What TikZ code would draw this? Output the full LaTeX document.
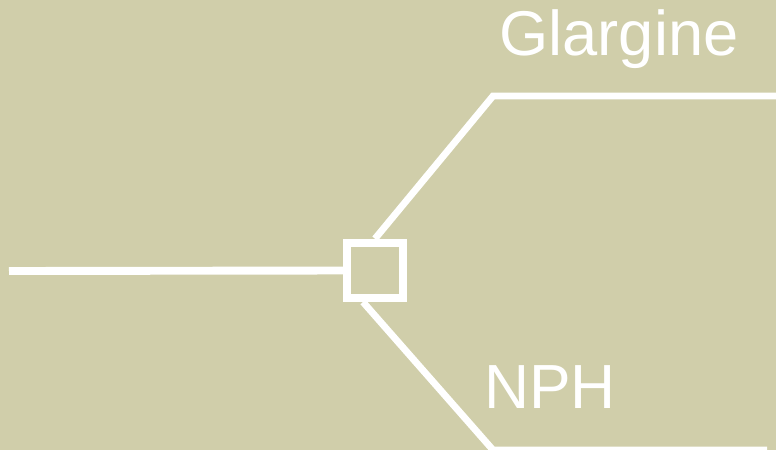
\documentclass[tikz,border=0pt]{standalone}
\usepackage{fontspec}
\setmainfont{Liberation Sans}
\definecolor{sand}{RGB}{208,206,170}
\begin{document}
\begin{tikzpicture}[x=0.02cm, y=-0.02cm]
	\fill[sand] (0,0) rectangle (776,450);
	\useasboundingbox (0,0) rectangle (776,450);
	\node (chance) [rectangle, draw=white, line width=4.6pt, minimum size=1.11cm, inner sep=0pt] at (375,270.5) {};
	\coordinate (start) at (9,271);
	\coordinate (upbend) at (493,96);
	\coordinate (upend) at (776,96);
	\coordinate (lowfoot) at (363,302);
	\coordinate (lowbend) at (493,450);
	\coordinate (lowend) at (767,450);
	\node (glargine) [anchor=base, inner sep=0pt, text=white, font=\fontsize{36}{43}\selectfont] at (619,55) {Glargine};
	\node (nph) [anchor=base west, inner sep=0pt, text=white, font=\fontsize{35.5}{42}\selectfont] at (484,408) {NPH};
	
	\draw[white, line width=4.5pt] (start) -- (chance.west);
	\draw[white, line width=3.9pt] (chance.north) -- (upbend) -- (upend);
	\draw[white, line width=3.9pt] (lowfoot) -- (lowbend) -- (lowend);
\end{tikzpicture}
\end{document}
